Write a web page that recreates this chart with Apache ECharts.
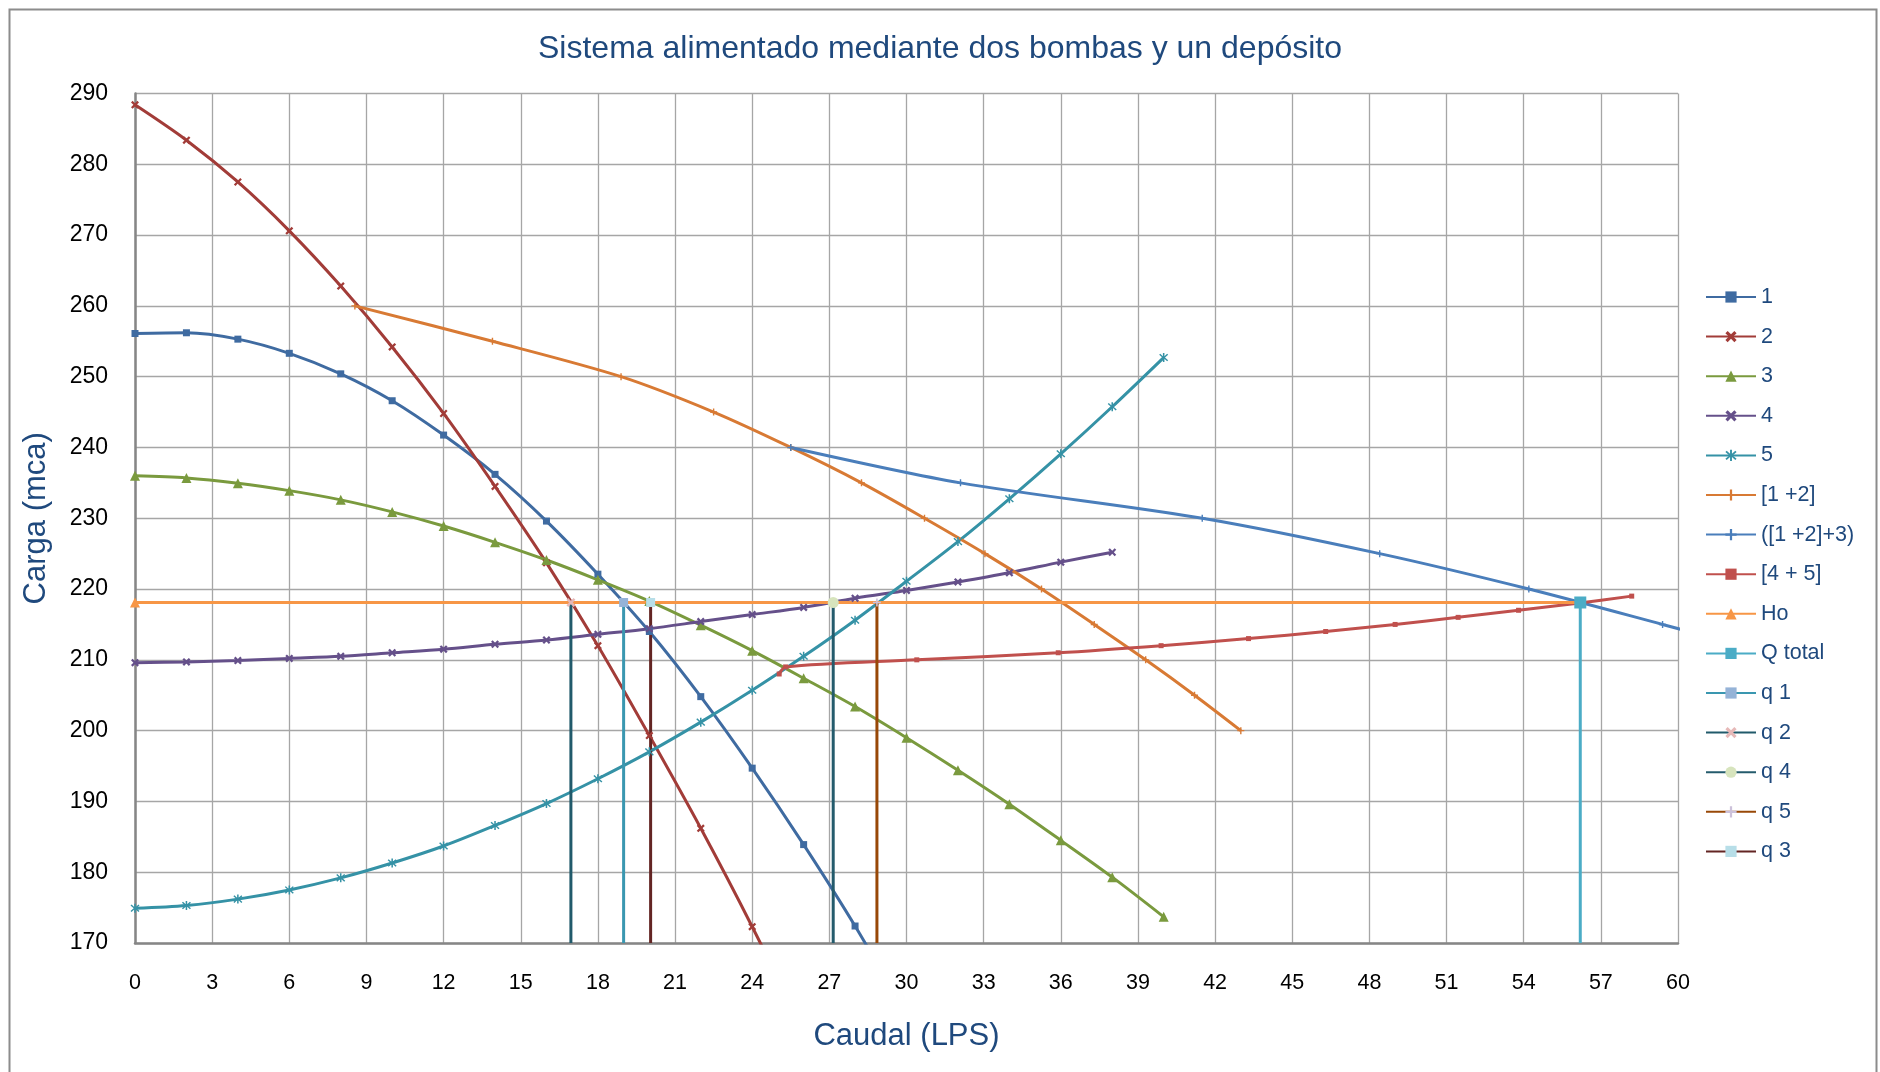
<!DOCTYPE html>
<html>
<head>
<meta charset="utf-8">
<title>Sistema alimentado mediante dos bombas y un depósito</title>
<script src="https://cdn.jsdelivr.net/npm/echarts@6/dist/echarts.min.js"></script>
<style>
  html, body { margin: 0; padding: 0; background: #fff; }
  #chart { width: 1880px; height: 1072px; }
</style>
</head>
<body>
<div id="chart"></div>
<script>
// pump curves, flow (LPS) every 2
var pump1Flow = [0, 2, 4, 6, 8, 10, 12, 14, 16, 18, 20, 22, 24, 26, 28, 30];
var pump1Head = [256.1, 256.2, 255.3, 253.3, 250.4, 246.6, 241.75, 236.2, 229.6, 222.1, 214.0, 204.8, 194.7, 183.9, 172.4, 159.8];

var pump2Flow = [0, 2, 4, 6, 8, 10, 12, 14, 16, 18, 20, 22, 24, 26];
var pump2Head = [288.4, 283.4, 277.5, 270.6, 262.8, 254.2, 244.8, 234.5, 223.7, 212.0, 199.3, 186.2, 172.3, 157.5];

var pump3Flow = [0, 2, 4, 6, 8, 10, 12, 14, 16, 18, 20, 22, 24, 26, 28, 30, 32, 34, 36, 38, 40];
var pump3Head = [236.0, 235.7, 234.95, 233.9, 232.6, 230.9, 228.9, 226.6, 224.1, 221.3, 218.3, 214.9, 211.3, 207.4, 203.4, 199.0, 194.4, 189.6, 184.5, 179.3, 173.7];

var pump4Flow = [0, 2, 4, 6, 8, 10, 12, 14, 16, 18, 20, 22, 24, 26, 28, 30, 32, 34, 36, 38];
var pump4Head = [209.6, 209.7, 209.9, 210.2, 210.5, 211.0, 211.5, 212.2, 212.8, 213.6, 214.4, 215.4, 216.4, 217.4, 218.7, 219.8, 221.0, 222.3, 223.8, 225.2];

var pump5Flow = [0, 2, 4, 6, 8, 10, 12, 14, 16, 18, 20, 22, 24, 26, 28, 30, 32, 34, 36, 38, 40];
var pump5Head = [174.9, 175.3, 176.2, 177.5, 179.2, 181.3, 183.7, 186.6, 189.7, 193.2, 197.0, 201.2, 205.7, 210.5, 215.6, 221.1, 226.7, 232.75, 239.1, 245.75, 252.7];

// combined curves (sum of flows at equal head)
var sum12Flow = [8.55, 13.9, 18.9, 22.5, 25.5, 28.25, 30.7, 33.05, 35.25, 37.3, 39.3, 41.2, 43.0];
var sum12Head = [260, 255, 250, 245, 240, 235, 230, 225, 220, 215, 210, 205, 200];

var sum123Flow = [25.5, 32.1, 41.5, 48.4, 54.2, 59.4, 64.5];
var sum123Head = [240, 235, 230, 225, 220, 215, 210];

var sum45Flow = [25.05, 25.3, 30.4, 35.9, 39.9, 43.3, 46.3, 49.0, 51.45, 53.8, 56.1, 58.2];
var sum45Head = [208, 209, 210, 211, 212, 213, 214, 215, 216, 217, 218, 219];

// operating point
var headHo = 218.1;
var flowTotal = 56.2;
var qNames = ['q 1', 'q 2', 'q 4', 'q 5', 'q 3'];
var qFlows = [19.0, 16.95, 27.15, 28.85, 20.05];

var NAVY = '#1F497D';
var FONT = '"Liberation Sans", Arial, sans-serif';
var X_MARK = 'path://M2,0L5,3L8,0L10,2L7,5L10,8L8,10L5,7L2,10L0,8L3,5L0,2Z';
var STAR_MARK = 'path://M4.2,0H5.8V3.6L8.6,0.8L9.7,1.9L6.4,5L9.7,8.1L8.6,9.2L5.8,6.4V10H4.2V6.4L1.4,9.2L0.3,8.1L3.6,5L0.3,1.9L1.4,0.8L4.2,3.6Z';
var PLUS_MARK = 'path://M4,0H6V4H10V6H6V10H4V6H0V4H4Z';

function pairs(xs, ys) {
	var out = [];
	for (var i = 0; i < xs.length; i++) out.push([xs[i], ys[i]]);
	return out;
}

function curve(name, xs, ys, color, symbol, size) {
	return {
		name: name,
		type: 'line',
		smooth: 0.3,
		data: pairs(xs, ys),
		symbol: symbol,
		symbolSize: size,
		lineStyle: { color: color, width: 3 },
		itemStyle: { color: color },
		clip: true
	};
}

function vertical(name, q, color, markColor, symbol, size) {
	return {
		name: name,
		type: 'line',
		data: [
			{ value: [q, headHo] },
			{ value: [q, 170], symbol: 'none' }
		],
		symbol: symbol,
		symbolSize: size,
		lineStyle: { color: color, width: 3 },
		itemStyle: { color: markColor },
		clip: true
	};
}

var series = [
	curve('1', pump1Flow, pump1Head, '#3F6BA1', 'rect', 7),
	curve('2', pump2Flow, pump2Head, '#A23C38', X_MARK, 8),
	curve('3', pump3Flow, pump3Head, '#7A9A3E', 'triangle', 10),
	curve('4', pump4Flow, pump4Head, '#65508A', X_MARK, 8),
	curve('5', pump5Flow, pump5Head, '#3592A6', STAR_MARK, 9),
	curve('[1 +2]', sum12Flow, sum12Head, '#D87A34', PLUS_MARK, 7),
	curve('([1 +2]+3)', sum123Flow, sum123Head, '#4A7EBB', PLUS_MARK, 7),
	curve('[4 + 5]', sum45Flow, sum45Head, '#C0504D', 'rect', 5),
	{
		name: 'Ho',
		type: 'line',
		data: [[0, headHo], [flowTotal, headHo]],
		symbol: 'triangle',
		symbolSize: 10,
		lineStyle: { color: '#F79646', width: 3 },
		itemStyle: { color: '#F79646' }
	},
	vertical('Q total', flowTotal, '#4BACC6', '#4BACC6', 'rect', 12),
	vertical('q 1', qFlows[0], '#3A97B0', '#95B3D7', 'rect', 9),
	vertical('q 2', qFlows[1], '#215A6B', '#E6B9B8', X_MARK, 9),
	vertical('q 4', qFlows[2], '#245B6C', '#D7E4BD', 'circle', 11),
	vertical('q 5', qFlows[3], '#984807', '#CCC1DA', PLUS_MARK, 8),
	vertical('q 3', qFlows[4], '#632523', '#B7DEE8', 'rect', 9)
];

var chart = echarts.init(document.getElementById('chart'), null, { renderer: 'canvas' });

chart.setOption({
	animation: false,
	backgroundColor: '#fff',
	textStyle: { fontFamily: FONT },
	title: {
		text: 'Sistema alimentado mediante dos bombas y un depósito',
		left: 'center',
		top: 28,
		textStyle: { color: NAVY, fontSize: 32, fontWeight: 'normal', fontFamily: FONT }
	},
	legend: {
		orient: 'vertical',
		left: 1700,
		top: 281,
		itemWidth: 50,
		itemHeight: 14,
		itemGap: 17.6,
		textStyle: { color: NAVY, fontSize: 21.5, fontFamily: FONT },
		data: series.map(function (s) { return s.name; })
	},
	graphic: [{
		type: 'rect',
		left: 7,
		top: 7,
		shape: { width: 1867, height: 1090 },
		style: { fill: 'none', stroke: '#8C8C8C', lineWidth: 2 },
		silent: true
	}],
	grid: {
		left: 135,
		right: 202,
		top: 93.5,
		bottom: 129
	},
	xAxis: {
		type: 'value',
		min: 0,
		max: 60,
		interval: 3,
		name: 'Caudal (LPS)',
		nameLocation: 'middle',
		nameGap: 78,
		nameTextStyle: { color: NAVY, fontSize: 31, fontFamily: FONT },
		axisLine: { show: true, onZero: false, lineStyle: { color: '#868686', width: 2.5 } },
		axisTick: { show: false },
		axisLabel: { color: '#000', fontSize: 21.5, margin: 29, fontFamily: FONT },
		splitLine: { show: true, lineStyle: { color: '#A6A6A6', width: 1.3 } }
	},
	yAxis: {
		type: 'value',
		min: 170,
		max: 290,
		interval: 10,
		name: 'Carga (mca)',
		nameLocation: 'middle',
		nameGap: 83,
		nameTextStyle: { color: NAVY, fontSize: 31, fontFamily: FONT },
		axisLine: { show: true, onZero: false, lineStyle: { color: '#868686', width: 2.5 } },
		axisTick: { show: false },
		axisLabel: { color: '#000', fontSize: 23, margin: 27, fontFamily: FONT },
		splitLine: { show: true, lineStyle: { color: '#A6A6A6', width: 1.3 } }
	},
	series: series
});
</script>
</body>
</html>
